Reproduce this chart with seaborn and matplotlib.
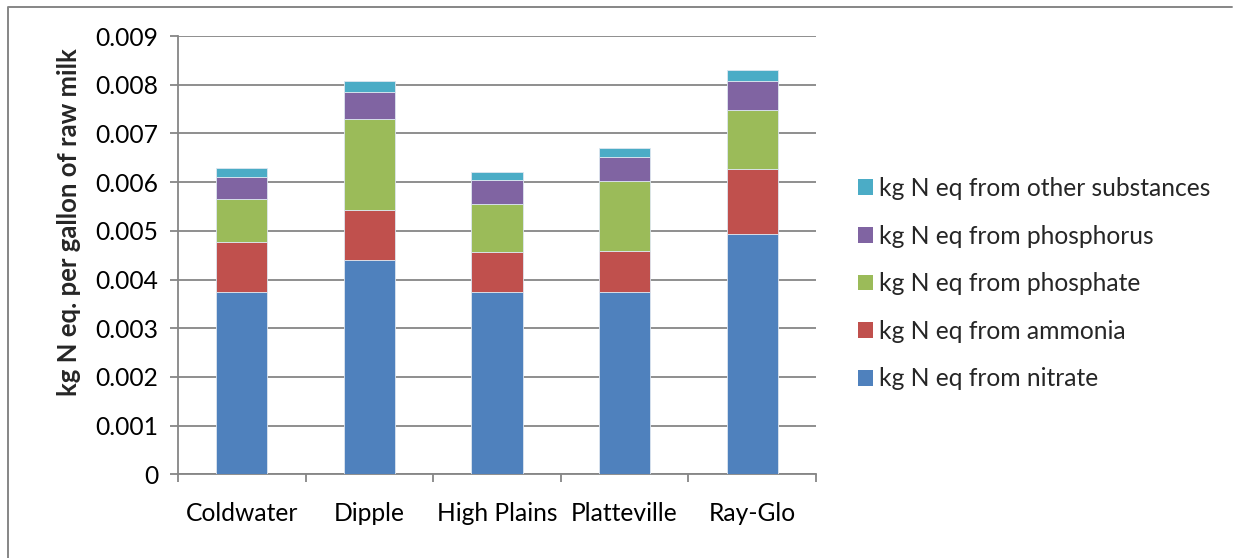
import matplotlib
matplotlib.use("Agg")
import matplotlib.pyplot as plt
import seaborn as sns
import pandas as pd
import numpy as np
from matplotlib.lines import Line2D
from matplotlib.patches import Patch

categories = ["Coldwater", "Dipple", "High Plains", "Platteville", "Ray-Glo"]
nitrate = [0.00374, 0.00440, 0.00375, 0.00374, 0.00493]
ammonia = [0.00104, 0.00103, 0.00082, 0.00085, 0.00133]
phosphate = [0.00087, 0.00186, 0.00099, 0.00143, 0.00122]
phosphorus = [0.00045, 0.00056, 0.00049, 0.00049, 0.00060]
other = [0.00019, 0.00023, 0.00016, 0.00018, 0.00022]

series_names = [
    "kg N eq from nitrate",
    "kg N eq from ammonia",
    "kg N eq from phosphate",
    "kg N eq from phosphorus",
    "kg N eq from other substances",
]
series_values = [nitrate, ammonia, phosphate, phosphorus, other]
colors = ["#4F81BD", "#C0504D", "#9BBB59", "#8064A2", "#4BACC6"]
yticks = [0, 0.001, 0.002, 0.003, 0.004, 0.005, 0.006, 0.007, 0.008, 0.009]
ytick_labels = ["0", "0.001", "0.002", "0.003", "0.004", "0.005", "0.006", "0.007", "0.008", "0.009"]

sns.set_style("white")
plt.rcParams["font.family"] = ["Lato", "DejaVu Sans"]

W, H = 1233, 558
fig = plt.figure(figsize=(W / 100, H / 100), dpi=100)
ax_w = 816 - 178
ax = fig.add_axes([178 / W, 1 - 474.3 / H, ax_w / W, (474.3 - 36) / H])

df = pd.DataFrame({"farm": categories})
bottom = np.zeros(len(categories))
for name, vals, col in zip(series_names, series_values, colors):
    df["v"] = vals
    sns.barplot(data=df, x="farm", y="v", ax=ax, color=col, width=0.4,
                bottom=bottom.copy(), edgecolor="#dde6f0", linewidth=0.6,
                saturation=1, errorbar=None, zorder=3)
    bottom += np.array(vals)

grid_c = "#868686"
FS = 17.7
ax.set_ylim(0, 0.009)
ax.set_xlim(-0.5, len(categories) - 0.5)
ax.set_yticks(yticks)
ax.set_yticklabels(ytick_labels)
ax.yaxis.grid(True, color=grid_c, linewidth=1.3, zorder=0)
ax.set_axisbelow(True)
for s in ["top", "right"]:
    ax.spines[s].set_visible(False)
for s in ["left", "bottom"]:
    ax.spines[s].set_color(grid_c)
    ax.spines[s].set_linewidth(1.3)

ax.tick_params(axis="y", which="major", length=6, width=1.3, color=grid_c,
               labelsize=FS, pad=8, left=True, labelcolor="black")
ax.set_xticks(range(len(categories)))
ax.set_xticklabels(categories)
ax.tick_params(axis="x", which="major", length=0, labelsize=FS, pad=20, labelcolor="black")
ax.set_xticks(np.arange(-0.5, len(categories), 1.0), minor=True)
ax.tick_params(axis="x", which="minor", length=6, width=1.3, color=grid_c, bottom=True)

ax.set_xlabel("")
ax.set_ylabel("kg N eq. per gallon of raw milk", fontsize=18.5, fontweight="bold")
ax.yaxis.set_label_coords((81 - 178) / ax_w, 0.575)

handles = [Patch(facecolor=c, edgecolor="none") for c in colors][::-1]
labels = series_names[::-1]
fig.legend(handles, labels, loc="upper left", bbox_to_anchor=(858 / W, 1 - 177 / H),
           frameon=False, fontsize=FS, handlelength=0.62, handleheight=0.62,
           handletextpad=0.25, labelspacing=1.0, borderpad=0, borderaxespad=0)

fig.add_artist(Line2D([8 / W, 8 / W, 1232 / W], [0, 1 - 6.5 / H, 1 - 6.5 / H],
                      color=grid_c, linewidth=1.4, transform=fig.transFigure))

fig.savefig("out.png", dpi=100)
